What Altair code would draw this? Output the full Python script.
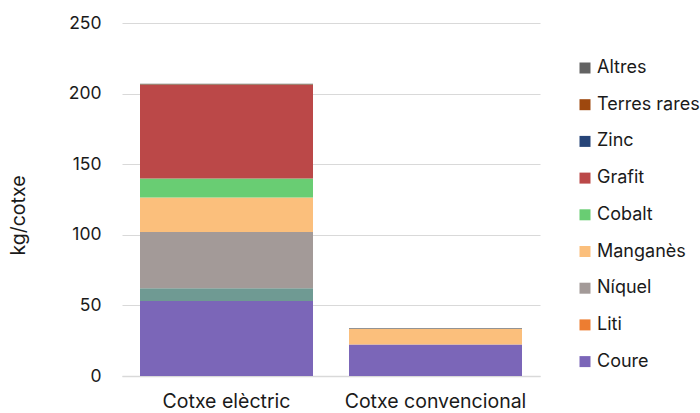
import altair as alt
import pandas as pd

# Minerals used per car (kg/cotxe)
cars = ["Cotxe elèctric", "Cotxe convencional"]
minerals = ["Coure", "Liti", "Níquel", "Manganès", "Cobalt", "Grafit", "Zinc", "Terres rares", "Altres"]
electric = [53.2, 8.9, 39.9, 24.5, 13.3, 66.3, 0.1, 0.5, 0.3]
conventional = [22.3, 0.0, 0.0, 11.2, 0.0, 0.0, 0.2, 0.0, 0.3]

# Fill colours of the stacked segments
bar_colors = ["#7b66b8", "#6f9a93", "#a39a98", "#fbbf7c", "#69cd73", "#bb4848", "#264478", "#9e480e", "#636363"]
# Swatch colours shown in the legend
legend_colors = ["#7b66b8", "#ed7d31", "#a39a98", "#fbbf7c", "#69cd73", "#bb4848", "#264478", "#9e480e", "#636363"]

rows = []
for car, vals in zip(cars, [electric, conventional]):
    for i, (m, v) in enumerate(zip(minerals, vals)):
        rows.append({"car": car, "mineral": m, "order": i, "value": v})
df = pd.DataFrame(rows)
legend_df = pd.DataFrame({"car": cars[0], "mineral": minerals, "order": range(len(minerals)), "value": 0.0})

FONT = "Inter"
TEXT = "#1a1a1a"

x_enc = alt.X("car:N", sort=cars, title=None,
              scale=alt.Scale(paddingInner=0.17, paddingOuter=0.085),
              axis=alt.Axis(labelAngle=0, labelFontSize=19.5, labelColor=TEXT, labelFont=FONT,
                            labelLimit=400, ticks=False, grid=False, domainColor="#d9d9d9",
                            domainWidth=1.5, labelPadding=16))
y_enc = alt.Y("value:Q", stack="zero", title="kg/cotxe",
              scale=alt.Scale(domain=[0, 250], nice=False, zero=True),
              axis=alt.Axis(values=[0, 50, 100, 150, 200, 250], domain=False, ticks=False, grid=True,
                            labelFontSize=17.5, labelColor=TEXT, labelFont=FONT, labelPadding=21,
                            gridColor="#d9d9d9", gridWidth=1.2,
                            titleFontSize=19.5, titleFont=FONT, titleFontWeight="normal",
                            titleColor=TEXT, titleX=-104, titleY=192, titleAlign="center",
                            titleBaseline="middle", titleAngle=270))

bars = alt.Chart(df).mark_bar(size=173).encode(
    x=x_enc,
    y=y_enc,
    color=alt.Color("mineral:N", scale=alt.Scale(domain=minerals, range=bar_colors), legend=None),
    order=alt.Order("order:Q", sort="ascending"),
)

# Zero-height bars that only carry the legend
legend_layer = alt.Chart(legend_df).mark_bar(size=0).encode(
    x=alt.X("car:N", sort=cars),
    y=alt.Y("value:Q", stack=None),
    fill=alt.Fill("mineral:N",
                  scale=alt.Scale(domain=minerals[::-1], range=legend_colors[::-1]),
                  legend=alt.Legend(title=None, orient="none", legendX=454, legendY=36,
                                    symbolType="square", symbolSize=121, symbolStrokeWidth=0,
                                    labelFontSize=18, labelFont=FONT, labelColor=TEXT,
                                    labelLimit=300, rowPadding=18.7, labelOffset=3)),
)

chart = alt.layer(bars, legend_layer).resolve_scale(color="independent", fill="independent").properties(
    width=418, height=353,
    autosize=alt.AutoSizeParams(type="none"),
    padding={"left": 122, "top": 23, "right": 160, "bottom": 37},
).configure_view(stroke=None)

chart.save("out.html", embed_options={"renderer": "svg", "actions": False})
